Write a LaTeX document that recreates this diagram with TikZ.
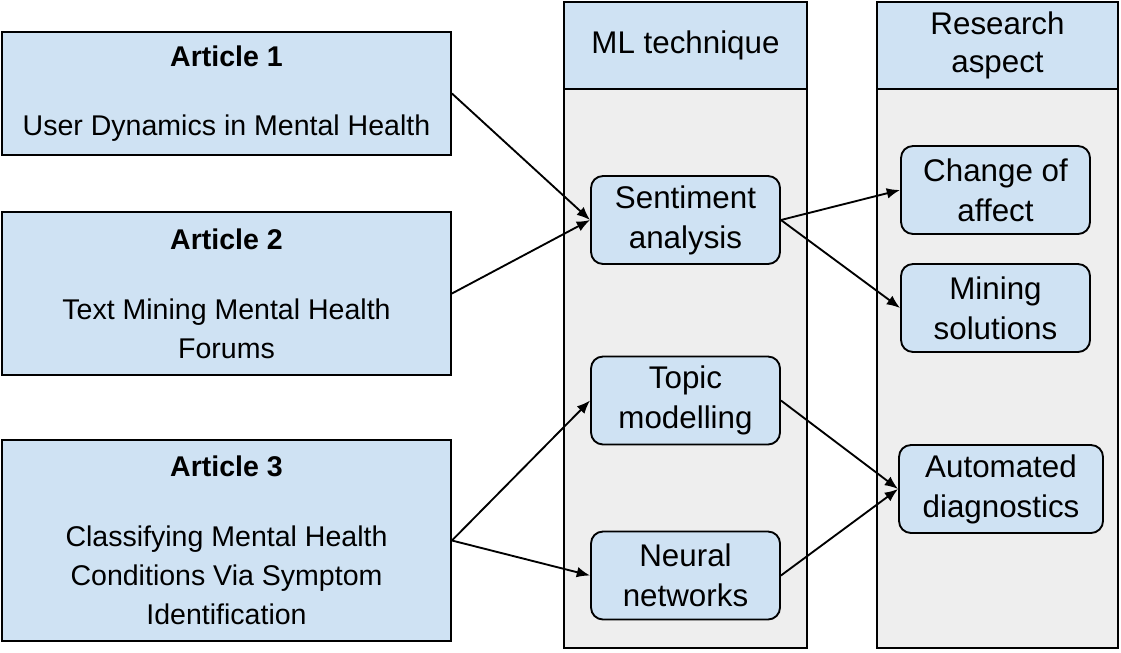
\documentclass[tikz,border=0pt]{standalone}
\usepackage{fontspec}
\setmainfont{Liberation Sans}
\usepackage{tikz}
\usetikzlibrary{arrows.meta}
\definecolor{boxblue}{HTML}{CFE2F3}
\definecolor{colgray}{HTML}{EEEEEE}
\tikzstyle{box}=[draw, line width=1.4pt, fill=boxblue, inner sep=0pt, align=center,
  font=\fontsize{21.4}{29.25}\selectfont]
\tikzstyle{article}=[box, minimum width=336.75pt]
\tikzstyle{header}=[box, minimum height=65.25pt, font=\fontsize{23.5}{28.5}\selectfont]
\tikzstyle{method}=[box, rounded corners=9pt, minimum width=141.75pt, minimum height=66pt,
  font=\fontsize{23.5}{30}\selectfont]
\tikzstyle{column}=[draw, line width=1.4pt, fill=colgray]
\tikzstyle{link}=[line width=1.4pt, -{Latex[length=10pt, width=8pt]}]

\begin{document}
\begin{tikzpicture}[x=0.75pt, y=-0.75pt]
        \useasboundingbox (0, 0) rectangle (1121, 653);
        % articles
        \node[article, minimum height=92.25pt] (art1) at (226.5, 93.5)
            {\textbf{Article 1}\\[23pt]User Dynamics in Mental Health};
        \node[article, minimum height=122.25pt] (art2) at (226.5, 293.5)
            {\textbf{Article 2}\\[23pt]Text Mining Mental Health\\Forums};
        \node[article, minimum height=150.75pt] (art3) at (226.5, 540.5)
            {\textbf{Article 3}\\[23pt]Classifying Mental Health\\Conditions Via Symptom\\Identification};
        % columns
        \draw[column] (564, 89) rectangle (807, 648);
        \draw[column] (877, 89) rectangle (1118, 648);
        \node[header, minimum width=182.25pt] (mlhead) at (685.5, 45.5) {ML technique};
        \node[header, minimum width=180.75pt] (rahead) at (997.5, 45.5) {Research\\aspect};
        % ML techniques
        \node[method] (senti) at (685.5, 220) {Sentiment\\analysis};
        \node[method] (topic) at (685.5, 400.5) {Topic\\modelling};
        \node[method] (neural) at (685.5, 575.5) {Neural\\networks};
        % research aspects
        \node[method] (change) at (995.5, 190) {Change of\\affect};
        \node[method] (mining) at (995.5, 308) {Mining\\solutions};
        \node[method, minimum width=153pt] (auto) at (1001, 489) {Automated\\diagnostics};
        % links
        \draw[link] (art1.east) -- (senti.west);
        \draw[link] (art2.east) -- (senti.west);
        \draw[link] (art3.east) -- (topic.west);
        \draw[link] (art3.east) -- (neural.west);
        \draw[link] (senti.east) -- (change.west);
        \draw[link] (senti.east) -- (mining.west);
        \draw[link] (topic.east) -- (auto.west);
        \draw[link] (neural.east) -- (auto.west);
    \end{tikzpicture}
\end{document}
